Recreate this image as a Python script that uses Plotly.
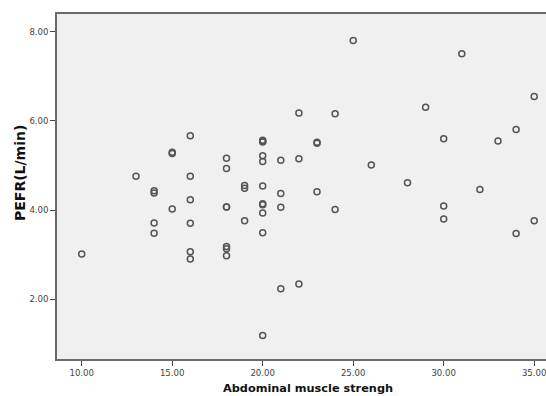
import plotly.graph_objects as go

# Abdominal muscle strength (x) and PEFR (y)
strength = [10, 13, 14, 14, 14, 14, 15, 15, 15,
            16, 16, 16, 16, 16, 16,
            18, 18, 18, 18, 18, 18, 18,
            19, 19, 19,
            20, 20, 20, 20, 20, 20, 20, 20, 20, 20, 20,
            21, 21, 21, 21,
            22, 22, 22,
            23, 23, 23,
            24, 24,
            25, 26, 28, 29, 30, 30, 30, 31, 32, 33, 34, 34, 35, 35]
pefr = [3.01, 4.76, 4.43, 4.38, 3.71, 3.48, 5.30, 5.27, 4.02,
        5.67, 4.76, 4.23, 3.70, 3.06, 2.90,
        5.16, 4.93, 4.07, 3.18, 3.13, 2.97, 4.07,
        4.55, 4.49, 3.76,
        5.57, 5.53, 5.22, 5.09, 4.54, 4.14, 4.12, 3.93, 3.49, 1.18, 5.55,
        5.12, 4.37, 4.06, 2.23,
        6.18, 5.15, 2.34,
        5.52, 5.50, 4.41,
        6.16, 4.01,
        7.81, 5.01, 4.61, 6.31, 5.60, 4.09, 3.80, 7.51, 4.46, 5.55, 5.81, 3.47, 6.55, 3.76]

x_ticks = [10, 15, 20, 25, 30, 35]
y_ticks = [2, 4, 6, 8]

W, H = 546, 396
ML, MR, MT, MB = 57, 0, 14, 37
pw, ph = W - ML - MR, H - MT - MB

fig = go.Figure(go.Scatter(
    x=strength, y=pefr, mode="markers",
    marker=dict(symbol="circle-open", size=6, color="#555555", line=dict(width=1.5)),
    hoverinfo="x+y"))

axis_font = dict(family="DejaVu Sans", size=8.6, color="#444444")
fig.update_layout(
    width=W, height=H,
    margin=dict(l=ML, r=MR, t=MT, b=MB, pad=0),
    paper_bgcolor="white", plot_bgcolor="#f0f0f0",
    showlegend=False,
    xaxis=dict(range=[8.635, 35.652], tickvals=x_ticks, tickformat=".2f",
               showgrid=False, zeroline=False, showline=True, mirror=True,
               linecolor="#6a6a6a", linewidth=1.5,
               ticks="outside", ticklen=5, tickcolor="#444444", tickwidth=1.2,
               tickfont=axis_font, ticklabeloverflow="allow"),
    yaxis=dict(range=[0.652, 8.404], tickvals=y_ticks, tickformat=".2f",
               showgrid=False, zeroline=False, showline=True, mirror=False,
               linecolor="#6a6a6a", linewidth=1.5,
               ticks="outside", ticklen=5, tickcolor="#444444", tickwidth=1.2,
               tickfont=axis_font),
    annotations=[
        dict(text="<b>Abdominal muscle strengh</b>", xref="paper", yref="paper",
             x=(308 - ML) / pw, y=(H - MB - 388.5) / ph, xanchor="center", yanchor="middle",
             showarrow=False, font=dict(family="DejaVu Sans", size=11.3, color="#111111")),
        dict(text="<b>PEFR(L/min)</b>", xref="paper", yref="paper", textangle=-90,
             x=(20 - ML) / pw, y=(H - MB - 173) / ph, xanchor="center", yanchor="middle",
             showarrow=False, font=dict(family="DejaVu Sans", size=14, color="#111111")),
    ],
)

fig.write_html("out.html",
               config={"displayModeBar": False},
               post_script="document.body.style.margin='0';document.body.style.padding='0';"
                           "document.body.style.overflow='hidden';")
